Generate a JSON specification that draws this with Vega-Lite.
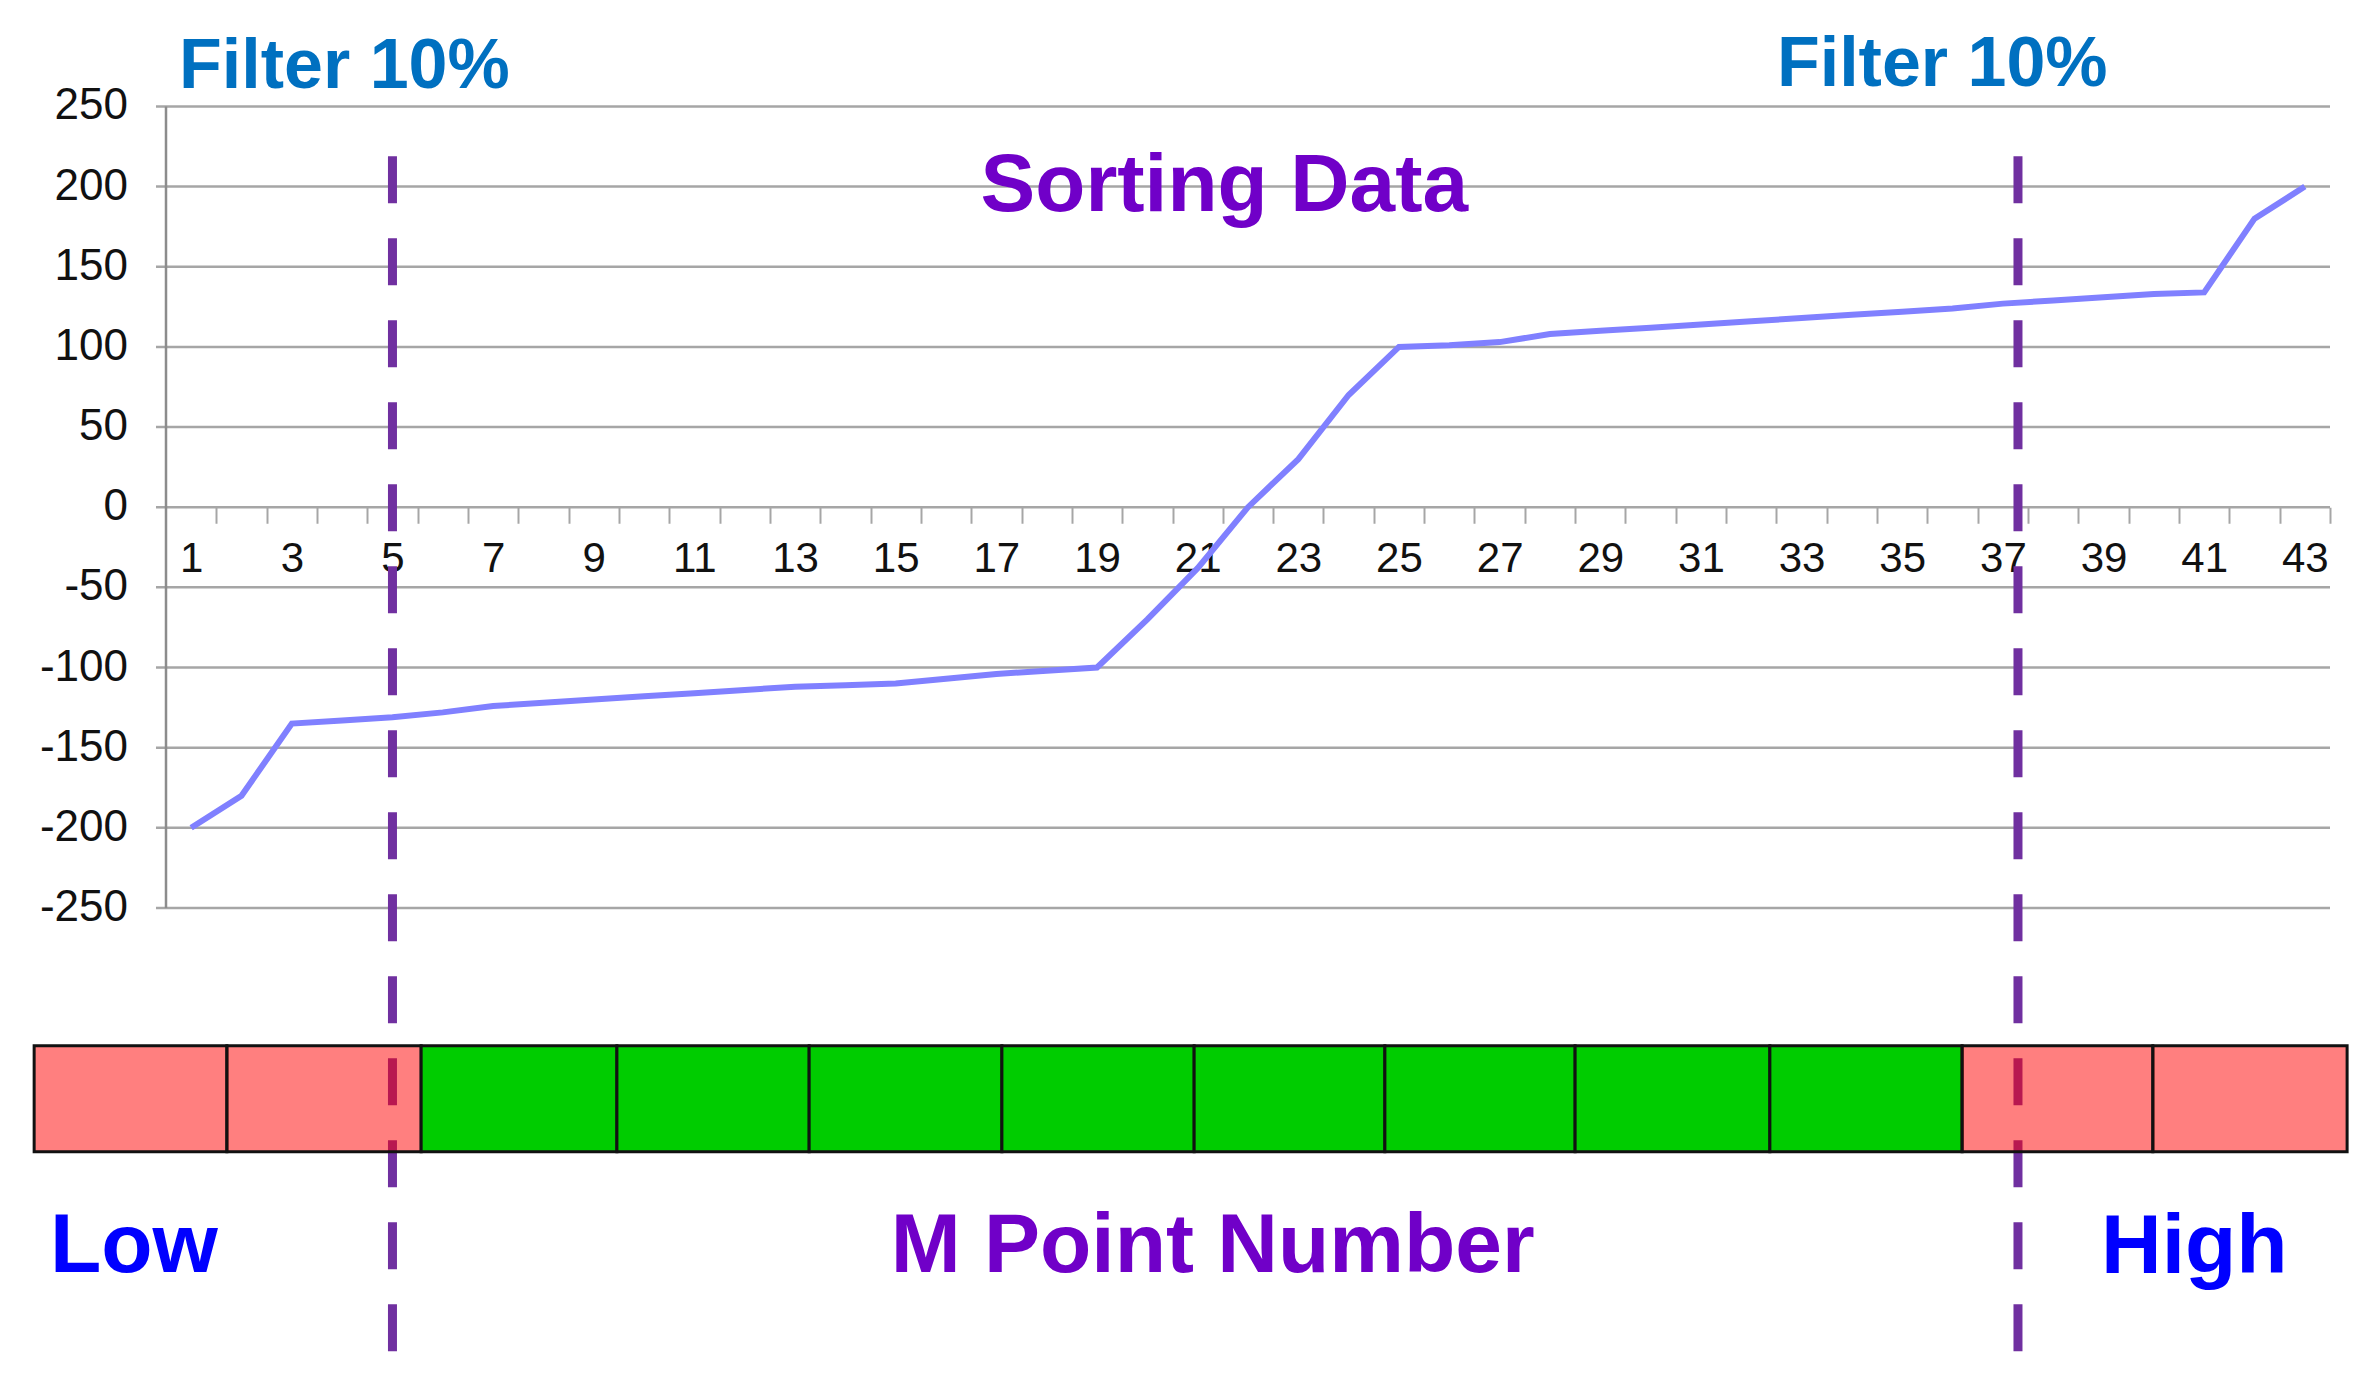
{
  "$schema": "https://vega.github.io/schema/vega-lite/v6.json",
  "width": 2164,
  "height": 1390,
  "autosize": {"type": "none"},
  "padding": {"left": 166, "right": 42, "top": 0, "bottom": 0},
  "background": "white",
  "config": {
    "view": {"stroke": null},
    "font": "Liberation Sans",
    "locale": {"number": {"decimal": ".", "thousands": ",", "grouping": [3], "currency": ["$", ""], "minus": "-"}}
  },
  "datasets": {
    "series": [
      {"m": 1, "value": -200}, {"m": 2, "value": -180}, {"m": 3, "value": -135}, {"m": 4, "value": -133},
      {"m": 5, "value": -131}, {"m": 6, "value": -128}, {"m": 7, "value": -124}, {"m": 8, "value": -122},
      {"m": 9, "value": -120}, {"m": 10, "value": -118}, {"m": 11, "value": -116}, {"m": 12, "value": -114},
      {"m": 13, "value": -112}, {"m": 14, "value": -111}, {"m": 15, "value": -110}, {"m": 16, "value": -107},
      {"m": 17, "value": -104}, {"m": 18, "value": -102}, {"m": 19, "value": -100}, {"m": 20, "value": -70},
      {"m": 21, "value": -38}, {"m": 22, "value": 0}, {"m": 23, "value": 30}, {"m": 24, "value": 70},
      {"m": 25, "value": 100}, {"m": 26, "value": 101}, {"m": 27, "value": 103}, {"m": 28, "value": 108},
      {"m": 29, "value": 110}, {"m": 30, "value": 112}, {"m": 31, "value": 114}, {"m": 32, "value": 116},
      {"m": 33, "value": 118}, {"m": 34, "value": 120}, {"m": 35, "value": 122}, {"m": 36, "value": 124},
      {"m": 37, "value": 127}, {"m": 38, "value": 129}, {"m": 39, "value": 131}, {"m": 40, "value": 133},
      {"m": 41, "value": 134}, {"m": 42, "value": 180}, {"m": 43, "value": 200}
    ],
    "gridlines": [
      {"g": -250}, {"g": -200}, {"g": -150}, {"g": -100}, {"g": -50}, {"g": 0},
      {"g": 50}, {"g": 100}, {"g": 150}, {"g": 200}, {"g": 250}
    ],
    "boxes": [
      {"box": 1, "start": -2.12, "end": 1.71, "zone": "filtered"},
      {"box": 2, "start": 1.71, "end": 5.57, "zone": "filtered"},
      {"box": 3, "start": 5.57, "end": 9.46, "zone": "kept"},
      {"box": 4, "start": 9.46, "end": 13.28, "zone": "kept"},
      {"box": 5, "start": 13.28, "end": 17.11, "zone": "kept"},
      {"box": 6, "start": 17.11, "end": 20.93, "zone": "kept"},
      {"box": 7, "start": 20.93, "end": 24.72, "zone": "kept"},
      {"box": 8, "start": 24.72, "end": 28.5, "zone": "kept"},
      {"box": 9, "start": 28.5, "end": 32.37, "zone": "kept"},
      {"box": 10, "start": 32.37, "end": 36.19, "zone": "kept"},
      {"box": 11, "start": 36.19, "end": 39.98, "zone": "filtered"},
      {"box": 12, "start": 39.98, "end": 43.84, "zone": "filtered"}
    ],
    "cuts": [{"cut": 5}, {"cut": 37.3}]
  },
  "resolve": {"axis": {"x": "independent"}},
  "layer": [
    {
      "data": {"name": "gridlines"},
      "mark": {"type": "rule", "color": "#a6a6a6", "strokeWidth": 2.5},
      "encoding": {
        "x": {"datum": 0.301, "type": "quantitative", "scale": {"domain": [0.5, 43.5], "nice": false, "zero": false},
          "axis": {"orient": "bottom", "offset": -882.75, "values": [1.5,2.5,3.5,4.5,5.5,6.5,7.5,8.5,9.5,10.5,11.5,12.5,13.5,14.5,15.5,16.5,17.5,18.5,19.5,20.5,21.5,22.5,23.5,24.5,25.5,26.5,27.5,28.5,29.5,30.5,31.5,32.5,33.5,34.5,35.5,36.5,37.5,38.5,39.5,40.5,41.5,42.5,43.5],
            "labels": false, "domain": false, "grid": false, "ticks": true, "tickSize": 16, "tickColor": "#a6a6a6", "tickWidth": 2, "title": null}},
        "x2": {"datum": 43.5},
        "y": {"field": "g", "type": "quantitative", "scale": {"domain": [-550.7, 316.4], "nice": false, "zero": false}, "axis": null}
      }
    },
    {
      "data": {"name": "gridlines"},
      "mark": {"type": "text", "fontSize": 44, "color": "#111111", "align": "right", "baseline": "middle"},
      "encoding": {
        "x": {"datum": -0.255, "type": "quantitative", "scale": {"domain": [0.5, 43.5], "nice": false, "zero": false}, "axis": null},
        "y": {"field": "g", "type": "quantitative", "scale": {"domain": [-550.7, 316.4], "nice": false, "zero": false}, "axis": null},
        "text": {"field": "g", "type": "nominal"}
      }
    },
    {
      "data": {"values": [{}]},
      "mark": {"type": "rule", "color": "#8c8c8c", "strokeWidth": 2.5},
      "encoding": {
        "x": {"datum": 0.5, "type": "quantitative", "scale": {"domain": [0.5, 43.5], "nice": false, "zero": false}, "axis": null},
        "y": {"datum": 250, "type": "quantitative", "scale": {"domain": [-550.7, 316.4], "nice": false, "zero": false}, "axis": null},
        "y2": {"datum": -250}
      }
    },
    {
      "data": {"name": "cuts"},
      "mark": {"type": "rule", "color": "#7030A0", "strokeWidth": 9, "strokeDash": [47, 35]},
      "encoding": {
        "x": {"field": "cut", "type": "quantitative", "scale": {"domain": [0.5, 43.5], "nice": false, "zero": false}, "axis": null},
        "y": {"datum": 219, "type": "quantitative", "scale": {"domain": [-550.7, 316.4], "nice": false, "zero": false}, "axis": null},
        "y2": {"datum": -529}
      }
    },
    {
      "data": {"name": "boxes"},
      "mark": {"type": "rect", "stroke": "#111111", "strokeWidth": 3},
      "encoding": {
        "x": {"field": "start", "type": "quantitative", "scale": {"domain": [0.5, 43.5], "nice": false, "zero": false}, "axis": null},
        "x2": {"field": "end"},
        "y": {"datum": -336, "type": "quantitative", "scale": {"domain": [-550.7, 316.4], "nice": false, "zero": false}, "axis": null},
        "y2": {"datum": -402},
        "color": {"field": "zone", "type": "nominal", "scale": {"domain": ["filtered", "kept"], "range": ["#ff0000", "#00cc00"]}, "legend": null},
        "fillOpacity": {"field": "zone", "type": "nominal", "scale": {"domain": ["filtered", "kept"], "range": [0.5, 1]}, "legend": null}
      }
    },
    {
      "data": {"name": "series"},
      "mark": {"type": "line", "color": "#8080FF", "strokeWidth": 6},
      "encoding": {
        "x": {"field": "m", "type": "quantitative", "scale": {"domain": [0.5, 43.5], "nice": false, "zero": false},
          "axis": {"orient": "bottom", "offset": -882.75, "values": [1,3,5,7,9,11,13,15,17,19,21,23,25,27,29,31,33,35,37,39,41,43],
            "ticks": false, "domain": false, "grid": false, "labelFontSize": 42, "labelFont": "Liberation Sans", "labelColor": "#111111",
            "labelPadding": 31, "labelOverlap": false, "labelFlush": false, "title": null}},
        "y": {"field": "value", "type": "quantitative", "scale": {"domain": [-550.7, 316.4], "nice": false, "zero": false}, "axis": null}
      }
    },
    {
      "data": {"values": [{}]},
      "mark": {"type": "text", "text": "Filter 10%", "fontWeight": "bold", "fontSize": 70, "color": "#0070C0", "align": "left", "baseline": "alphabetic"},
      "encoding": {
        "x": {"datum": 0.76, "type": "quantitative", "scale": {"domain": [0.5, 43.5], "nice": false, "zero": false}, "axis": null},
        "y": {"datum": 261.5, "type": "quantitative", "scale": {"domain": [-550.7, 316.4], "nice": false, "zero": false}, "axis": null}
      }
    },
    {
      "data": {"values": [{}]},
      "mark": {"type": "text", "text": "Filter 10%", "fontWeight": "bold", "fontSize": 70, "color": "#0070C0", "align": "left", "baseline": "alphabetic"},
      "encoding": {
        "x": {"datum": 32.51, "type": "quantitative", "scale": {"domain": [0.5, 43.5], "nice": false, "zero": false}, "axis": null},
        "y": {"datum": 262.8, "type": "quantitative", "scale": {"domain": [-550.7, 316.4], "nice": false, "zero": false}, "axis": null}
      }
    },
    {
      "data": {"values": [{}]},
      "mark": {"type": "text", "text": "Sorting Data", "fontWeight": "bold", "fontSize": 82, "color": "#7000C8", "align": "center", "baseline": "alphabetic"},
      "encoding": {
        "x": {"datum": 21.53, "type": "quantitative", "scale": {"domain": [0.5, 43.5], "nice": false, "zero": false}, "axis": null},
        "y": {"datum": 184.8, "type": "quantitative", "scale": {"domain": [-550.7, 316.4], "nice": false, "zero": false}, "axis": null}
      }
    },
    {
      "data": {"values": [{}]},
      "mark": {"type": "text", "text": "M Point Number", "fontWeight": "bold", "fontSize": 84, "color": "#7000C8", "align": "left", "baseline": "alphabetic"},
      "encoding": {
        "x": {"datum": 14.9, "type": "quantitative", "scale": {"domain": [0.5, 43.5], "nice": false, "zero": false}, "axis": null},
        "y": {"datum": -477, "type": "quantitative", "scale": {"domain": [-550.7, 316.4], "nice": false, "zero": false}, "axis": null}
      }
    },
    {
      "data": {"values": [{}]},
      "mark": {"type": "text", "text": "Low", "fontWeight": "bold", "fontSize": 84, "color": "#0000FF", "align": "left", "baseline": "alphabetic"},
      "encoding": {
        "x": {"datum": -1.805, "type": "quantitative", "scale": {"domain": [0.5, 43.5], "nice": false, "zero": false}, "axis": null},
        "y": {"datum": -477, "type": "quantitative", "scale": {"domain": [-550.7, 316.4], "nice": false, "zero": false}, "axis": null}
      }
    },
    {
      "data": {"values": [{}]},
      "mark": {"type": "text", "text": "High", "fontWeight": "bold", "fontSize": 84, "color": "#0000FF", "align": "left", "baseline": "alphabetic"},
      "encoding": {
        "x": {"datum": 38.95, "type": "quantitative", "scale": {"domain": [0.5, 43.5], "nice": false, "zero": false}, "axis": null},
        "y": {"datum": -477.5, "type": "quantitative", "scale": {"domain": [-550.7, 316.4], "nice": false, "zero": false}, "axis": null}
      }
    }
  ]
}
